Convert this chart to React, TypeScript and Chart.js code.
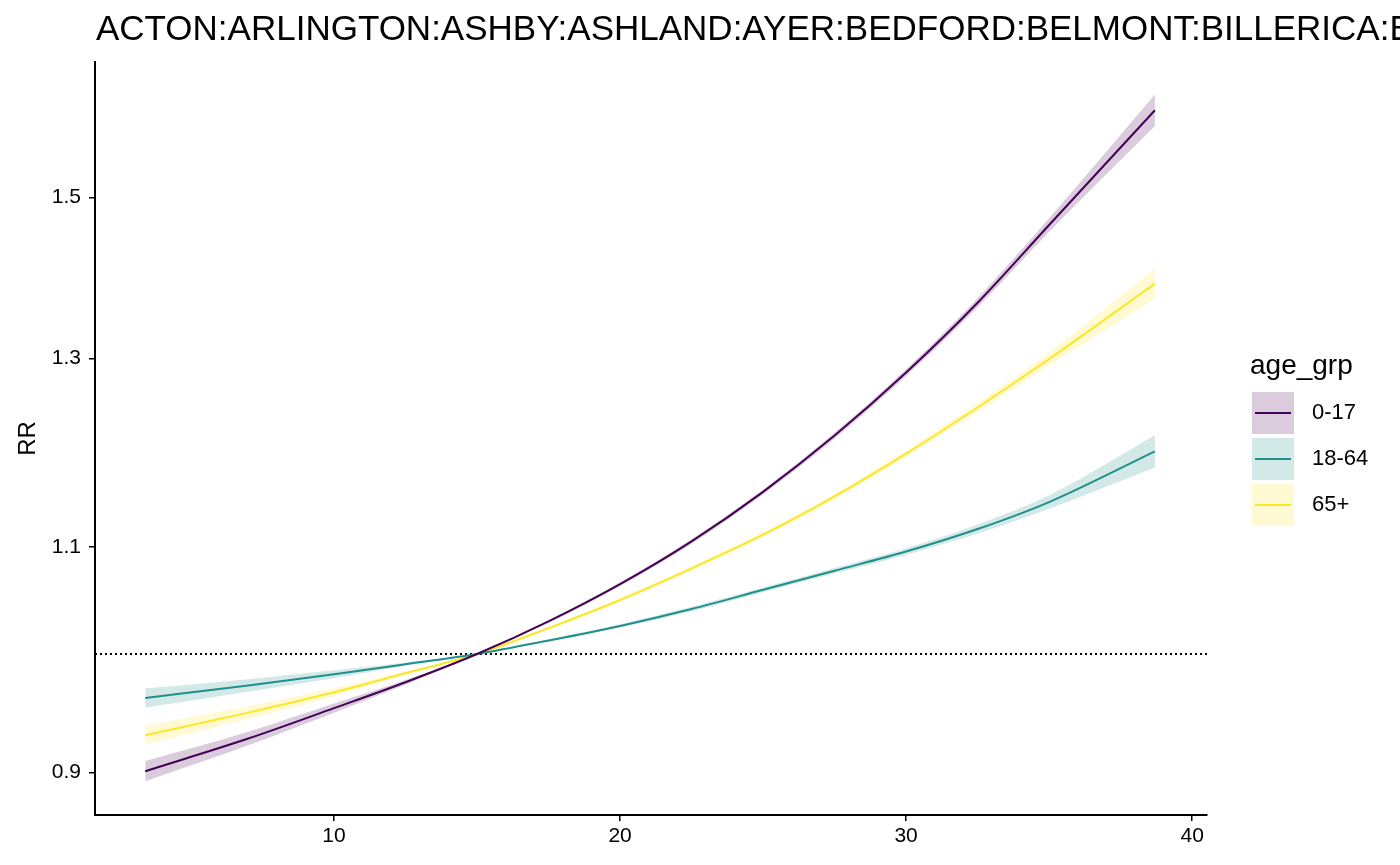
import { useEffect, useRef } from 'react';
import { Chart, registerables } from 'chart.js';

Chart.register(...registerables);

const TITLE = 'ACTON:ARLINGTON:ASHBY:ASHLAND:AYER:BEDFORD:BELMONT:BILLERICA:BOXBOROUGH:BURLINGTON:CAMBRIDGE';
const Y_LABEL = 'RR';
const LEGEND_TITLE = 'age_grp';
const GROUPS = ['0-17', '18-64', '65+'];
const COLORS = ['#440154', '#21908C', '#FDE725'];
const BAND_COLORS = ['rgba(68,1,84,0.2)', 'rgba(33,144,140,0.2)', 'rgba(253,231,37,0.2)'];

const X_TICKS = [10, 20, 30, 40];
const Y_TICKS = [0.9, 1.1, 1.3, 1.5];
const REF_LINE = 1;

const TEMPERATURE = [3.4, 7, 10, 12.5, 15, 17.5, 20, 22.5, 25, 27.5, 30, 32.5, 35, 38.7];

const RR_0_17 = [0.9012, 0.9277, 0.9531, 0.9753, 1, 1.0294, 1.064, 1.1052, 1.1549, 1.2141, 1.284, 1.3662, 1.4638, 1.6209];
const LO_0_17 = [0.8932, 0.9222, 0.9493, 0.9734, 1, 1.0284, 1.0624, 1.103, 1.1526, 1.2111, 1.2802, 1.3607, 1.455, 1.5984];
const HI_0_17 = [0.9094, 0.9333, 0.957, 0.9773, 1, 1.0305, 1.0656, 1.1074, 1.1572, 1.2172, 1.2879, 1.3716, 1.4726, 1.6438];

const RR_18_64 = [0.9618, 0.9724, 0.9822, 0.991, 1, 1.0121, 1.0253, 1.0408, 1.0587, 1.0768, 1.0953, 1.1174, 1.1445, 1.1972];
const LO_18_64 = [0.9537, 0.9671, 0.9787, 0.9896, 1, 1.0111, 1.0238, 1.0387, 1.0565, 1.0741, 1.092, 1.1129, 1.1377, 1.1803];
const HI_18_64 = [0.9699, 0.9778, 0.9856, 0.9925, 1, 1.0131, 1.0269, 1.0429, 1.0608, 1.0795, 1.0986, 1.1219, 1.1514, 1.2144];

const RR_65 = [0.9305, 0.9493, 0.9666, 0.9831, 1, 1.0233, 1.0492, 1.079, 1.1118, 1.1503, 1.1948, 1.2448, 1.2996, 1.3896];
const LO_65 = [0.9227, 0.9441, 0.9632, 0.9817, 1, 1.0222, 1.0476, 1.0768, 1.1096, 1.1474, 1.1912, 1.2399, 1.2917, 1.3712];
const HI_65 = [0.9384, 0.9546, 0.97, 0.9846, 1, 1.0243, 1.0507, 1.0811, 1.114, 1.1531, 1.1984, 1.2498, 1.3073, 1.4081];

const SERIES = [
  { rr: RR_0_17, lo: LO_0_17, hi: HI_0_17 },
  { rr: RR_18_64, lo: LO_18_64, hi: HI_18_64 },
  { rr: RR_65, lo: LO_65, hi: HI_65 },
];

const FONT = '"Liberation Sans", Arial, Helvetica, sans-serif';

const toPoints = (arr: number[]) => TEMPERATURE.map((x, i) => ({ x, y: arr[i] }));

const overlay = {
  id: 'overlay',
  beforeDatasetsDraw(chart: any) {
    const { ctx, chartArea, scales } = chart;
    const y = scales.y.getPixelForValue(REF_LINE);
    ctx.save();
    ctx.strokeStyle = '#000';
    ctx.lineWidth = 2;
    ctx.setLineDash([2, 3]);
    ctx.beginPath();
    ctx.moveTo(chartArea.left, y);
    ctx.lineTo(chartArea.right, y);
    ctx.stroke();
    ctx.restore();
  },
  afterDraw(chart: any) {
    const { ctx, chartArea } = chart;
    ctx.save();
    ctx.fillStyle = '#000';
    ctx.font = `35px ${FONT}`;
    ctx.textAlign = 'left';
    ctx.textBaseline = 'alphabetic';
    ctx.fillText(TITLE, 96, 40);

    ctx.save();
    ctx.translate(28, (chartArea.top + chartArea.bottom) / 2);
    ctx.rotate(-Math.PI / 2);
    ctx.font = `24px ${FONT}`;
    ctx.textAlign = 'center';
    ctx.textBaseline = 'middle';
    ctx.fillText(Y_LABEL, 0, 0);
    ctx.restore();

    ctx.font = `28px ${FONT}`;
    ctx.textBaseline = 'alphabetic';
    ctx.fillText(LEGEND_TITLE, 1250, 374);
    const keyTops = [392, 438, 484];
    GROUPS.forEach((g, i) => {
      const top = keyTops[i];
      ctx.fillStyle = BAND_COLORS[i];
      ctx.fillRect(1252, top, 42, 42);
      ctx.strokeStyle = COLORS[i];
      ctx.lineWidth = 2;
      ctx.beginPath();
      ctx.moveTo(1255, top + 21);
      ctx.lineTo(1291, top + 21);
      ctx.stroke();
      ctx.fillStyle = '#000';
      ctx.font = `22px ${FONT}`;
      ctx.textBaseline = 'middle';
      ctx.fillText(g, 1312, top + 21);
    });
    ctx.restore();
  },
};

export default function App() {
  const ref = useRef<HTMLCanvasElement>(null);
  useEffect(() => {
    if (!ref.current) return;
    const datasets: any[] = [];
    SERIES.forEach((s, i) => {
      datasets.push({
        label: GROUPS[i] + ' lower',
        data: toPoints(s.lo),
        borderWidth: 0,
        borderColor: 'rgba(0,0,0,0)',
        pointRadius: 0,
        fill: false,
        cubicInterpolationMode: 'monotone',
      });
      datasets.push({
        label: GROUPS[i] + ' upper',
        data: toPoints(s.hi),
        borderWidth: 0,
        borderColor: 'rgba(0,0,0,0)',
        backgroundColor: BAND_COLORS[i],
        pointRadius: 0,
        fill: '-1',
        cubicInterpolationMode: 'monotone',
      });
    });
    SERIES.forEach((s, i) => {
      datasets.push({
        label: GROUPS[i],
        data: toPoints(s.rr),
        borderColor: COLORS[i],
        borderWidth: 2,
        pointRadius: 0,
        fill: false,
        cubicInterpolationMode: 'monotone',
      });
    });

    const chart = new Chart(ref.current, {
      type: 'line',
      data: { datasets },
      plugins: [overlay],
      options: {
        animation: false,
        responsive: false,
        layout: { padding: { left: 0, top: 62, right: 193, bottom: 0 } },
        plugins: {
          legend: { display: false },
          tooltip: { enabled: false },
          title: { display: false },
          filler: { drawTime: 'beforeDatasetsDraw' },
        } as any,
        scales: {
          x: {
            type: 'linear',
            min: 1.643,
            max: 40.52,
            afterBuildTicks: (scale: any) => {
              scale.ticks = X_TICKS.map((v) => ({ value: v }));
            },
            afterFit: (scale: any) => {
              scale.height = 50;
            },
            grid: { display: true, drawOnChartArea: false, drawTicks: true, tickLength: 6, color: '#000', lineWidth: 1.5 },
            border: { display: true, color: '#000', width: 2 },
            ticks: {
              color: '#000',
              font: { family: FONT, size: 21 },
              padding: 3,
              maxRotation: 0,
              autoSkip: false,
              callback: (v: any) => String(v),
            },
          },
          y: {
            type: 'logarithmic',
            min: 0.8668,
            max: 1.6918,
            afterBuildTicks: (scale: any) => {
              scale.ticks = Y_TICKS.map((v) => ({ value: v }));
            },
            afterFit: (scale: any) => {
              scale.width = 95;
            },
            grid: { display: true, drawOnChartArea: false, drawTicks: true, tickLength: 6, color: '#000', lineWidth: 1.5 },
            border: { display: true, color: '#000', width: 2 },
            ticks: {
              color: '#000',
              font: { family: FONT, size: 21 },
              padding: 8,
              autoSkip: false,
              callback: (v: any) => Number(v).toFixed(1),
            },
          },
        },
      },
    });
    return () => chart.destroy();
  }, []);

  return (
    <div style={{ position: 'fixed', left: 0, top: 0, width: 1400, height: 865, background: '#fff' }}>
      <canvas ref={ref} width={1400} height={865} style={{ width: 1400, height: 865, display: 'block' }} />
    </div>
  );
}
